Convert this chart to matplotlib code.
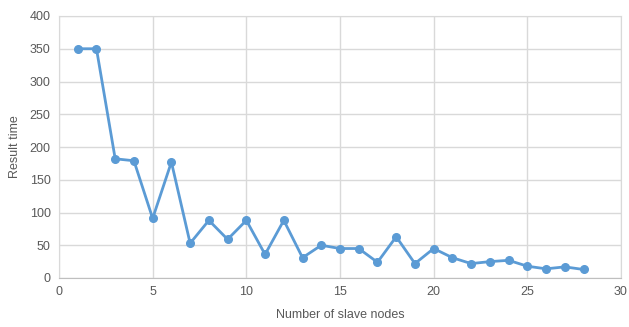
import matplotlib
matplotlib.use("Agg")
import matplotlib.pyplot as plt

nodes = list(range(1, 29))
result_time = [350, 350, 182, 179, 91, 177, 53, 88, 59, 88, 36, 88, 31, 50,
               45, 45, 24, 63, 22, 45, 31, 22, 25, 27, 18, 14, 17, 13]
x_ticks = [0, 5, 10, 15, 20, 25, 30]
y_ticks = [0, 50, 100, 150, 200, 250, 300, 350, 400]

plt.rcParams['font.family'] = ['Liberation Sans', 'DejaVu Sans']

fig = plt.figure(figsize=(6.29, 3.27), dpi=100)
ax = fig.add_axes([59/629, (327-278)/327, (621-59)/629, (278-16)/327])

ax.plot(nodes, result_time, color='#5B9BD5', linewidth=2, marker='o',
        markersize=5.5, zorder=3)

ax.set_xlim(0, 30)
ax.set_ylim(0, 400)
ax.set_xticks(x_ticks)
ax.set_yticks(y_ticks)
ax.grid(True, color='#D9D9D9', linewidth=1)
ax.set_axisbelow(True)
for s in ['top', 'right', 'left']:
    ax.spines[s].set_color('#D9D9D9')
ax.spines['bottom'].set_color('#BFBFBF')
ax.tick_params(length=0, labelsize=9, colors='#595959', pad=6)
ax.set_xlabel('Number of slave nodes', fontsize=9, color='#595959', labelpad=8)
ax.set_ylabel('Result time', fontsize=9, color='#595959', labelpad=6)

fig.savefig('out.png', dpi=100)
